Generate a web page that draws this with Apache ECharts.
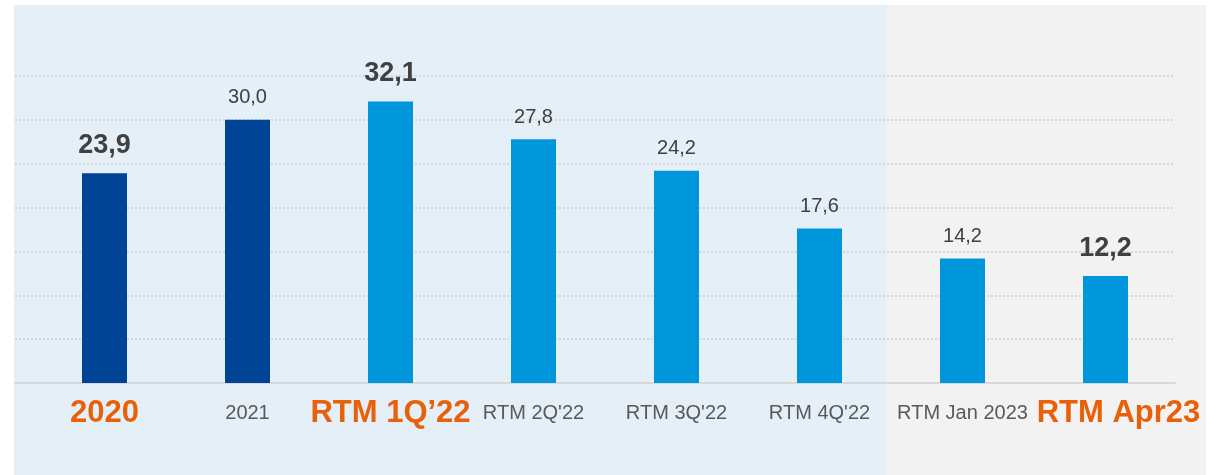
<!DOCTYPE html>
<html><head><meta charset="utf-8">
<script src="https://cdn.jsdelivr.net/npm/echarts@6/dist/echarts.min.js"></script>
<style>html,body{margin:0;padding:0;background:#fff}#c{width:1221px;height:475px}</style>
</head><body><div id="c"></div>
<script>
const categories = ["2020", "2021", "RTM 1Q’22", "RTM 2Q'22", "RTM 3Q'22", "RTM 4Q'22", "RTM Jan 2023", "RTM Apr23"];
const values = [23.9, 30.0, 32.1, 27.8, 24.2, 17.6, 14.2, 12.2];
const highlighted = [true, false, true, false, false, false, false, true];
const darkBars = [true, true, false, false, false, false, false, false];
const yTicks = [0, 5, 10, 15, 20, 25, 30, 35];

const FONT = "'Liberation Sans', Arial, sans-serif";
const chart = echarts.init(document.getElementById('c'), null, {renderer: 'canvas'});

const barData = values.map((v, i) => ({
  value: v,
  itemStyle: {color: darkBars[i] ? '#004496' : '#0096DC'},
  label: highlighted[i]
    ? {fontSize: 27, fontWeight: 'bold', distance: 14}
    : {fontSize: 20, fontWeight: 'normal', distance: 12}
}));

chart.setOption({
  animation: false,
  graphic: [
    {type: 'rect', z: -10, silent: true, shape: {x: 14, y: 5, width: 872, height: 470}, style: {fill: '#E4EFF8'}},
    {type: 'rect', z: -10, silent: true, shape: {x: 886, y: 5, width: 320, height: 470}, style: {fill: '#F2F2F2'}}
  ],
  grid: [
    {left: 15, right: 46, top: 76, bottom: 92},
    {left: 33, right: 44, top: 76, bottom: 92}
  ],
  xAxis: [
    {type: 'category', gridIndex: 0, data: [''], axisLine: {show: true, lineStyle: {color: '#D9D9D9', width: 2}},
     axisTick: {show: false}, axisLabel: {show: false}},
    {type: 'category', gridIndex: 1, data: categories,
     axisLine: {show: false}, axisTick: {show: false},
     axisLabel: {
       interval: 0, margin: 10,
       formatter: (v, i) => {
         if (!highlighted[i]) return '{n|' + v + '}';
         return (i === categories.length - 1 ? '{hr|' : '{h|') + v + '}';
       },
       rich: {
         h: {fontFamily: FONT, fontSize: 31, fontWeight: 'bold', color: '#E8600A', lineHeight: 40},
         hr: {fontFamily: FONT, fontSize: 31, fontWeight: 'bold', color: '#E8600A', lineHeight: 40, padding: [0, 0, 0, 26]},
         n: {fontFamily: FONT, fontSize: 20, color: '#595959', lineHeight: 40}
       }
     }}
  ],
  yAxis: [
    {type: 'value', gridIndex: 0, min: 0, max: 35, interval: 5,
     axisLine: {show: false}, axisTick: {show: false}, axisLabel: {show: false},
     splitLine: {show: true, lineStyle: {color: '#D6D6D6', type: [2, 2], width: 2}}},
    {type: 'value', gridIndex: 1, min: 0, max: 35, interval: 5,
     axisLine: {show: false}, axisTick: {show: false}, axisLabel: {show: false},
     splitLine: {show: false}}
  ],
  series: [{
    type: 'bar', xAxisIndex: 1, yAxisIndex: 1, barWidth: 45, data: barData, z: 5,
    label: {
      show: true, position: 'top', fontFamily: FONT, color: '#404040',
      formatter: p => p.value.toFixed(1).replace('.', ',')
    }
  }]
});
</script></body></html>
